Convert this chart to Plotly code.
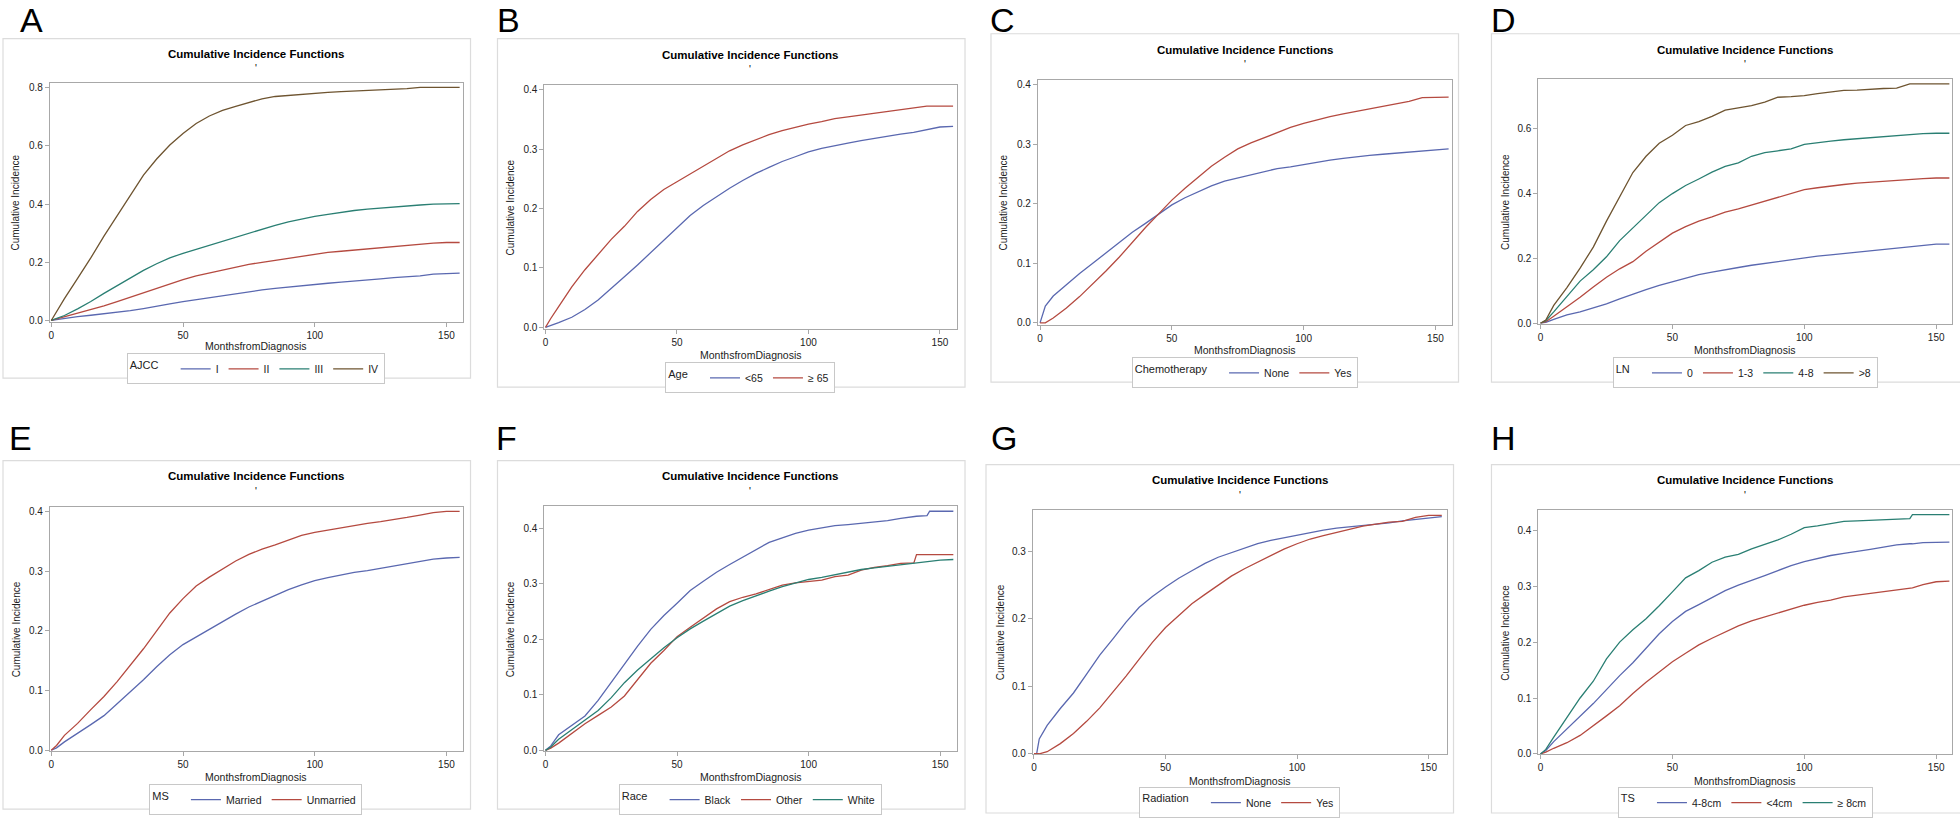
import plotly.graph_objects as go

# ---------------- data ----------------
MONTHS = [0, 2, 5, 10, 15, 20, 25, 30, 35, 40, 45, 50, 55, 60, 65, 70, 75, 80, 85, 90,
          95, 100, 105, 110, 115, 120, 125, 130, 135, 140, 145, 150, 155]

# A: AJCC
A_I = [0, 0.003, 0.007, 0.013, 0.018, 0.023, 0.028, 0.034, 0.041, 0.048, 0.057, 0.065, 0.072, 0.079, 0.086, 0.092,
       0.099, 0.105, 0.11, 0.115, 0.119, 0.124, 0.128, 0.132, 0.135, 0.139, 0.143, 0.147, 0.15, 0.153, 0.159, 0.162, 0.163]
A_II = [0, 0.005, 0.012, 0.025, 0.037, 0.05, 0.065, 0.08, 0.097, 0.112, 0.127, 0.14, 0.153, 0.163, 0.173, 0.183,
        0.193, 0.2, 0.207, 0.215, 0.222, 0.228, 0.234, 0.238, 0.242, 0.246, 0.25, 0.255, 0.259, 0.263, 0.266, 0.268, 0.268]
A_III = [0, 0.006, 0.017, 0.04, 0.065, 0.093, 0.12, 0.147, 0.172, 0.195, 0.215, 0.231, 0.245, 0.259, 0.273, 0.287,
         0.3, 0.314, 0.327, 0.339, 0.349, 0.358, 0.365, 0.372, 0.378, 0.383, 0.387, 0.39, 0.394, 0.397, 0.4, 0.402, 0.402]
A_IV = [0, 0.03, 0.075, 0.145, 0.215, 0.29, 0.36, 0.43, 0.5, 0.555, 0.603, 0.643, 0.677, 0.703, 0.722, 0.736,
        0.75, 0.762, 0.77, 0.774, 0.777, 0.78, 0.784, 0.787, 0.789, 0.79, 0.792, 0.795, 0.797, 0.801, 0.801, 0.801, 0.801]

# B: Age
B_LT65 = [0, 0.003, 0.008, 0.017, 0.03, 0.046, 0.065, 0.085, 0.105, 0.126, 0.147, 0.168, 0.188, 0.205, 0.22, 0.234,
          0.247, 0.259, 0.269, 0.279, 0.287, 0.295, 0.301, 0.306, 0.31, 0.314, 0.318, 0.321, 0.325, 0.328, 0.333, 0.337, 0.338]
B_GE65 = [0, 0.015, 0.035, 0.068, 0.097, 0.122, 0.148, 0.17, 0.195, 0.215, 0.232, 0.245, 0.258, 0.27, 0.283, 0.297,
          0.307, 0.316, 0.324, 0.331, 0.337, 0.342, 0.346, 0.351, 0.354, 0.357, 0.36, 0.363, 0.367, 0.369, 0.372, 0.372, 0.372]

# C: Chemotherapy
C_NONE = [0, 0.028, 0.045, 0.064, 0.083, 0.1, 0.117, 0.135, 0.152, 0.167, 0.182, 0.198, 0.21, 0.22, 0.23, 0.238,
          0.243, 0.248, 0.253, 0.259, 0.262, 0.266, 0.27, 0.273, 0.276, 0.279, 0.281, 0.283, 0.285, 0.287, 0.289, 0.29, 0.292]
C_YES = [0, 0, 0.008, 0.025, 0.044, 0.065, 0.087, 0.11, 0.135, 0.16, 0.183, 0.206, 0.226, 0.245, 0.263, 0.278,
         0.292, 0.302, 0.311, 0.319, 0.328, 0.335, 0.341, 0.346, 0.351, 0.355, 0.359, 0.363, 0.367, 0.372, 0.378, 0.379, 0.379]

# D: LN
D_0 = [0, 0.003, 0.012, 0.026, 0.035, 0.047, 0.06, 0.075, 0.09, 0.104, 0.117, 0.128, 0.14, 0.15, 0.158, 0.166,
       0.172, 0.179, 0.185, 0.191, 0.197, 0.202, 0.207, 0.211, 0.215, 0.219, 0.222, 0.227, 0.232, 0.236, 0.24, 0.244, 0.244]
D_1_3 = [0, 0.005, 0.022, 0.05, 0.08, 0.112, 0.142, 0.168, 0.19, 0.222, 0.25, 0.278, 0.298, 0.315, 0.328, 0.343,
         0.353, 0.365, 0.378, 0.39, 0.402, 0.412, 0.418, 0.424, 0.428, 0.432, 0.435, 0.438, 0.442, 0.444, 0.446, 0.448, 0.448]
D_4_8 = [0, 0.008, 0.035, 0.082, 0.13, 0.165, 0.205, 0.255, 0.295, 0.335, 0.372, 0.4, 0.425, 0.445, 0.466, 0.484,
         0.495, 0.515, 0.526, 0.532, 0.538, 0.552, 0.558, 0.562, 0.566, 0.569, 0.573, 0.577, 0.58, 0.582, 0.585, 0.586, 0.586]
D_GT8 = [0, 0.01, 0.055, 0.11, 0.17, 0.235, 0.315, 0.39, 0.465, 0.515, 0.555, 0.58, 0.61, 0.622, 0.638, 0.657,
         0.663, 0.671, 0.682, 0.697, 0.699, 0.702, 0.708, 0.714, 0.718, 0.719, 0.722, 0.724, 0.725, 0.738, 0.738, 0.738, 0.738]

# E: MS
E_MARRIED = [0, 0.004, 0.014, 0.028, 0.043, 0.058, 0.078, 0.098, 0.118, 0.14, 0.16, 0.177, 0.19, 0.202, 0.215, 0.228,
             0.24, 0.25, 0.26, 0.269, 0.277, 0.284, 0.289, 0.294, 0.298, 0.301, 0.305, 0.309, 0.312, 0.316, 0.32, 0.322, 0.323]
E_UNMARRIED = [0, 0.008, 0.025, 0.045, 0.068, 0.09, 0.115, 0.142, 0.17, 0.2, 0.23, 0.254, 0.275, 0.29, 0.303, 0.317,
               0.328, 0.337, 0.344, 0.352, 0.36, 0.365, 0.369, 0.373, 0.377, 0.38, 0.383, 0.386, 0.39, 0.394, 0.398, 0.4, 0.4]

# F: Race
MONTHS_F = [0, 2, 5, 10, 15, 20, 25, 30, 35, 40, 45, 50, 55, 60, 65, 70, 75, 80, 85, 90,
            95, 100, 105, 110, 115, 120, 125, 130, 135, 140, 141, 145, 146, 150, 155]
F_BLACK = [0, 0.008, 0.028, 0.045, 0.062, 0.09, 0.123, 0.155, 0.188, 0.218, 0.243, 0.265, 0.288, 0.305, 0.321, 0.335,
           0.348, 0.362, 0.375, 0.383, 0.391, 0.397, 0.401, 0.405, 0.407, 0.409, 0.411, 0.414, 0.418, 0.422, 0.422,
           0.423, 0.431, 0.431, 0.431]
F_OTHER = [0, 0.004, 0.013, 0.03, 0.048, 0.063, 0.078, 0.098, 0.128, 0.157, 0.18, 0.205, 0.222, 0.238, 0.255, 0.268,
           0.276, 0.282, 0.29, 0.298, 0.302, 0.305, 0.307, 0.313, 0.316, 0.325, 0.33, 0.333, 0.337, 0.338, 0.353,
           0.353, 0.353, 0.353, 0.353]
F_WHITE = [0, 0.006, 0.02, 0.037, 0.055, 0.072, 0.095, 0.122, 0.145, 0.165, 0.185, 0.203, 0.219, 0.233, 0.247, 0.26,
           0.27, 0.279, 0.287, 0.295, 0.302, 0.308, 0.312, 0.317, 0.322, 0.326, 0.329, 0.332, 0.335, 0.338, 0.338,
           0.341, 0.341, 0.343, 0.344]

# G: Radiation
MONTHS_G = [0, 1, 2, 5, 10, 15, 20, 25, 30, 35, 40, 45, 50, 55, 60, 65, 70, 75, 80, 85, 90,
            95, 100, 105, 110, 115, 120, 125, 130, 135, 140, 145, 150, 155]
G_NONE = [0, 0, 0.022, 0.042, 0.067, 0.09, 0.118, 0.146, 0.17, 0.195, 0.217, 0.233, 0.247, 0.26, 0.271, 0.282,
          0.291, 0.298, 0.305, 0.311, 0.316, 0.32, 0.323, 0.327, 0.331, 0.334, 0.336, 0.337, 0.339, 0.342, 0.345,
          0.347, 0.348, 0.351]
G_YES = [0, 0, 0, 0.003, 0.015, 0.03, 0.048, 0.068, 0.091, 0.115, 0.14, 0.165, 0.187, 0.205, 0.222, 0.236,
         0.25, 0.263, 0.274, 0.284, 0.294, 0.303, 0.311, 0.318, 0.323, 0.328, 0.333, 0.337, 0.34, 0.343, 0.344,
         0.35, 0.353, 0.353]

# H: TS
MONTHS_H = [0, 2, 5, 10, 15, 20, 25, 30, 35, 40, 45, 50, 55, 60, 65, 70, 75, 80, 85, 90,
            95, 100, 105, 110, 115, 120, 125, 130, 135, 140, 141, 145, 150, 155]
H_4_8 = [0, 0.006, 0.022, 0.045, 0.068, 0.09, 0.115, 0.14, 0.163, 0.19, 0.215, 0.237, 0.255, 0.267, 0.28, 0.292,
         0.302, 0.31, 0.319, 0.328, 0.337, 0.344, 0.35, 0.355, 0.359, 0.362, 0.366, 0.37, 0.374, 0.376, 0.376,
         0.378, 0.379, 0.379]
H_LT4 = [0, 0.003, 0.01, 0.02, 0.033, 0.05, 0.068, 0.086, 0.108, 0.128, 0.147, 0.165, 0.18, 0.195, 0.207, 0.218,
         0.229, 0.238, 0.245, 0.253, 0.26, 0.266, 0.271, 0.275, 0.281, 0.284, 0.288, 0.291, 0.294, 0.297, 0.297,
         0.303, 0.308, 0.309]
H_GE8 = [0, 0.008, 0.03, 0.065, 0.1, 0.13, 0.17, 0.2, 0.222, 0.242, 0.265, 0.29, 0.315, 0.328, 0.343, 0.352,
         0.357, 0.367, 0.375, 0.383, 0.393, 0.405, 0.408, 0.412, 0.416, 0.417, 0.418, 0.42, 0.421, 0.421, 0.428,
         0.428, 0.428, 0.428]

PANEL_LETTERS = ["A", "B", "C", "D", "E", "F", "G", "H"]
LEGEND_TITLES = ["AJCC", "Age", "Chemotherapy", "LN", "MS", "Race", "Radiation", "TS"]
TITLE = "Cumulative Incidence Functions"
X_TITLE = "MonthsfromDiagnosis"
Y_TITLE = "Cumulative Incidence"
X_TICKS = [0, 50, 100, 150]

# ---------------- styling / layout ----------------
W, H = 1960, 819
FONT = "Liberation Sans, Arial, sans-serif"
BLUE, RED, TEAL, BROWN = "#5A68B0", "#B54A40", "#2A7F73", "#6E5430"

panels = [
    dict(months=MONTHS, series=[("I", A_I, BLUE), ("II", A_II, RED), ("III", A_III, TEAL), ("IV", A_IV, BROWN)],
         yr=[-0.004, 0.815], dt=0.2, xr=[-0.5, 156.1], plot=(48, 83, 461, 323), box=(1, 38, 469, 380),
         letter=(30, 19), title=(254, 53), legend=(254, 367), xt=348, ytx=14),
    dict(months=MONTHS, series=[("<65", B_LT65, BLUE), ("≥ 65", B_GE65, RED)],
         yr=[-0.002, 0.407], dt=0.1, xr=[-0.4, 156.5], plot=(543, 85, 956, 330), box=(496, 38, 964, 389),
         letter=(507, 19), title=(749, 54), legend=(749, 376), xt=357, ytx=509),
    dict(months=MONTHS, series=[("None", C_NONE, BLUE), ("Yes", C_YES, RED)],
         yr=[-0.003, 0.407], dt=0.1, xr=[-0.8, 156.1], plot=(1037, 80, 1451, 326), box=(990, 33, 1458, 384),
         letter=(1002, 19), title=(1244, 49), legend=(1244, 371), xt=352, ytx=1003),
    dict(months=MONTHS, series=[("0", D_0, BLUE), ("1-3", D_1_3, RED), ("4-8", D_4_8, TEAL), (">8", D_GT8, BROWN)],
         yr=[-0.001, 0.752], dt=0.2, xr=[-0.8, 156.0], plot=(1538, 79, 1952, 325), box=(1491, 33, 1962, 384),
         letter=(1503, 19), title=(1745, 49), legend=(1745, 371), xt=352, ytx=1505),
    dict(months=MONTHS, series=[("Married", E_MARRIED, BLUE), ("Unmarried", E_UNMARRIED, RED)],
         yr=[-0.002, 0.407], dt=0.1, xr=[-0.5, 156.1], plot=(48, 510, 461, 756), box=(1, 463, 469, 814),
         letter=(19, 440), title=(254, 479), legend=(254, 801), xt=782, ytx=14),
    dict(months=MONTHS_F, series=[("Black", F_BLACK, BLUE), ("Other", F_OTHER, RED), ("White", F_WHITE, TEAL)],
         yr=[-0.002, 0.44], dt=0.1, xr=[-0.4, 156.4], plot=(543, 509, 956, 756), box=(496, 463, 964, 814),
         letter=(505, 440), title=(749, 479), legend=(749, 801), xt=782, ytx=509),
    dict(months=MONTHS_G, series=[("None", G_NONE, BLUE), ("Yes", G_YES, RED)],
         yr=[-0.001, 0.3606], dt=0.1, xr=[-0.4, 156.8], plot=(1032, 513, 1446, 759), box=(985, 467, 1453, 818),
         letter=(1003, 440), title=(1239, 483), legend=(1239, 804), xt=786, ytx=999),
    dict(months=MONTHS_H, series=[("4-8cm", H_4_8, BLUE), ("<4cm", H_LT4, RED), ("≥ 8cm", H_GE8, TEAL)],
         yr=[-0.001, 0.436], dt=0.1, xr=[-0.8, 156.0], plot=(1538, 513, 1952, 759), box=(1491, 467, 1962, 818),
         letter=(1503, 440), title=(1745, 483), legend=(1745, 804), xt=786, ytx=1505),
]


def px(x):
    return x / W


def py(y):
    return 1 - y / H


fig = go.Figure()
layout = dict(width=W, height=H, margin=dict(l=0, r=0, t=0, b=0), paper_bgcolor="white",
              plot_bgcolor="white", font=dict(family=FONT, size=10, color="#222"),
              annotations=[], shapes=[])


def ann(text, x, y, size, xanchor="center", yanchor="middle", angle=0, color="#222"):
    return dict(text=text, x=px(x), y=py(y), xref="paper", yref="paper", showarrow=False,
                xanchor=xanchor, yanchor=yanchor, textangle=angle,
                font=dict(family=FONT, size=size, color=color))


for i, p in enumerate(panels):
    n = i + 1
    sfx = "" if n == 1 else str(n)
    leg = "legend" + sfx
    x0, y0, x1, y1 = p["plot"]
    for name, vals, col in p["series"]:
        fig.add_trace(go.Scatter(x=p["months"], y=vals, mode="lines", name=name,
                                 line=dict(color=col, width=1.3), xaxis="x" + sfx, yaxis="y" + sfx,
                                 legend=leg, showlegend=True))
    axis_common = dict(showline=True, mirror=True, linecolor="#a8a8a8", linewidth=1, ticks="outside",
                       ticklen=4, tickcolor="#a8a8a8", showgrid=False, zeroline=False,
                       tickfont=dict(family=FONT, size=10, color="#222"))
    layout["xaxis" + sfx] = dict(domain=[px(x0), px(x1)], range=p["xr"], anchor="y" + sfx,
                                 tickvals=X_TICKS, **axis_common)
    layout["yaxis" + sfx] = dict(domain=[py(y1), py(y0)], range=p["yr"], anchor="x" + sfx,
                                 dtick=p["dt"], tick0=0, tickformat=".1f", **axis_common)
    # axis titles
    layout["annotations"].append(ann(X_TITLE, (x0 + x1) / 2, p["xt"], 10.5))
    layout["annotations"].append(ann(Y_TITLE, p["ytx"], (y0 + y1) / 2, 10, angle=-90))
    # legend (boxed, horizontal, with title on the left)
    layout[leg] = dict(orientation="h", x=px(p["legend"][0]), y=py(p["legend"][1] - 12),
                       xanchor="center", yanchor="top", bordercolor="#c8c8c8", borderwidth=1,
                       bgcolor="white", font=dict(family=FONT, size=10.5, color="#222"),
                       title=dict(text=LEGEND_TITLES[i] + "   ", side="left",
                                  font=dict(family=FONT, size=11, color="#222")),
                       tracegroupgap=0, itemwidth=30)
    bx0, by0, bx1, by1 = p["box"]
    layout["shapes"].append(dict(type="rect", xref="paper", yref="paper", x0=px(bx0), x1=px(bx1),
                                 y0=py(by1), y1=py(by0), line=dict(color="#dcdcdc", width=1.2),
                                 fillcolor="rgba(0,0,0,0)", layer="below"))
    lx, ly = p["letter"]
    layout["annotations"].append(ann(PANEL_LETTERS[i], lx, ly, 34, color="black"))
    tx, ty = p["title"]
    layout["annotations"].append(ann("<b>" + TITLE + "</b>", tx, ty, 11.5, color="black"))
    layout["annotations"].append(ann("'", tx, ty + 15, 10, color="black"))

fig.update_layout(**layout)
fig.write_html("out.html", config={"displayModeBar": False},
               post_script="document.body.style.margin='0';document.body.style.padding='0';"
                           "document.body.style.overflow='hidden';")
